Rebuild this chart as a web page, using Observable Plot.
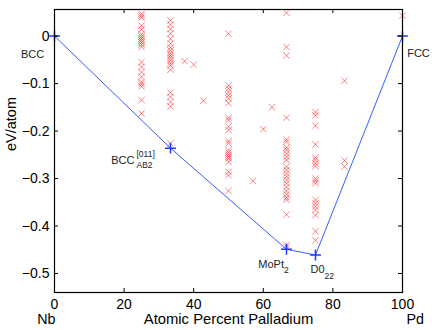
<!DOCTYPE html>
<html><head><meta charset="utf-8">
<script src="https://cdn.jsdelivr.net/npm/d3@7"></script>
<script src="https://cdn.jsdelivr.net/npm/@observablehq/plot@0.6"></script>
<style>body{margin:0;background:#fff} svg{display:block}</style>
</head><body><div id="chart"></div>
<script>
// Formation energies (eV/atom) of computed structures, grouped by atomic % Pd
const pd25 = [0.047, 0.043, 0.039, 0.022, 0.014, 0.004, -0.001, -0.005, -0.009, -0.013, -0.018, -0.023, -0.055, -0.065, -0.076, -0.086, -0.097, -0.101, -0.106, -0.135, -0.163];
const pd33 = [0.033, 0.024, 0.015, 0.005, -0.006, -0.016, -0.024, -0.030, -0.036, -0.041, -0.046, -0.051, -0.057, -0.062, -0.071, -0.119, -0.128, -0.139, -0.148, -0.226];
const pd50 = [0.005, -0.104, -0.111, -0.118, -0.125, -0.131, -0.141, -0.172, -0.177, -0.191, -0.198, -0.221, -0.226, -0.240, -0.245, -0.250, -0.254, -0.258, -0.265, -0.286, -0.293, -0.326];
const pd67 = [0.049, -0.023, -0.041, -0.172, -0.218, -0.223, -0.235, -0.240, -0.247, -0.254, -0.261, -0.275, -0.282, -0.289, -0.296, -0.303, -0.310, -0.318, -0.326, -0.333, -0.340, -0.345, -0.376, -0.440, -0.444];
const pd75 = [-0.160, -0.167, -0.189, -0.228, -0.256, -0.261, -0.268, -0.274, -0.300, -0.305, -0.310, -0.345, -0.352, -0.359, -0.366, -0.377, -0.411, -0.430];
const pd83 = [-0.094, -0.262, -0.275];
const pd100 = [0.043];
const otherX = [37.4, 40.0, 42.8, 57.0, 60.0, 62.5];
const otherE = [-0.053, -0.060, -0.136, -0.305, -0.196, -0.150];

// Convex hull (ground states)
const hullX = [0, 33.33, 66.67, 75, 100];
const hullE = [0, -0.236, -0.449, -0.461, 0];

// Tick values
const xTicks = [0, 20, 40, 60, 80, 100];
const yTicks = [0, -0.1, -0.2, -0.3, -0.4, -0.5];
const endNames = ["Nb", "Pd"];
const endX = [0, 100];

const structures = [
  ...pd25.map(e => ({x: 25, e})),
  ...pd33.map(e => ({x: 33.33, e})),
  ...pd50.map(e => ({x: 50, e})),
  ...pd67.map(e => ({x: 66.67, e})),
  ...pd75.map(e => ({x: 75, e})),
  ...pd83.map(e => ({x: 83.33, e})),
  ...pd100.map(e => ({x: 100, e})),
  ...otherX.map((x, i) => ({x, e: otherE[i]}))
];
const hull = hullX.map((x, i) => ({x, e: hullE[i]}));
const ends = endNames.map((n, i) => ({n, x: endX[i]}));

const W = 436, H = 330, ML = 54, MR = 34, MT = 9, MB = 38;
const innerW = W - ML - MR, innerH = H - MT - MB, TICK = 4;

const yFmt = d => d === 0 ? "0" : d3.format(".1f")(d);
const ann = {fontSize: 11, fill: "#222"};
const sub = {fontSize: 8.5, fill: "#222", textAnchor: "start"};

const chart = Plot.plot({
  width: W, height: H,
  marginLeft: ML, marginRight: MR, marginTop: MT, marginBottom: MB,
  style: {fontFamily: "'Liberation Sans', Arial, sans-serif", fontSize: "14px", color: "#000", background: "#fff"},
  x: {domain: [0, 100]},
  y: {domain: [-0.54, 0.056]},
  marks: [
    Plot.dot(structures, {x: "x", y: "e", symbol: "times", r: 3, stroke: "red", strokeOpacity: 0.55, strokeWidth: 0.9}),
    Plot.line(hull, {x: "x", y: "e", stroke: "#3a5cff", strokeWidth: 1}),
    Plot.dot(hull, {x: "x", y: "e", symbol: "plus", r: 3.6, stroke: "#1f3cff", strokeWidth: 1.5}),
    // annotations
    Plot.text([hull[0]], {x: "x", y: "e", text: () => "BCC", dx: -22, dy: 18, ...ann}),
    Plot.text([hull[4]], {x: "x", y: "e", text: () => "FCC", dx: 16, dy: 17.5, ...ann}),
    Plot.text([hull[1]], {x: "x", y: "e", text: () => "BCC", textAnchor: "end", dx: -36, dy: 12, ...ann}),
    Plot.text([hull[1]], {x: "x", y: "e", text: () => "[011]", dx: -34, dy: 6, ...sub}),
    Plot.text([hull[1]], {x: "x", y: "e", text: () => "AB2", dx: -34, dy: 17.5, ...sub}),
    Plot.text([hull[2]], {x: "x", y: "e", text: () => "MoPt", textAnchor: "end", dx: -2.5, dy: 15, ...ann}),
    Plot.text([hull[2]], {x: "x", y: "e", text: () => "2", dx: -2.5, dy: 20.5, ...sub}),
    Plot.text([hull[3]], {x: "x", y: "e", text: () => "D0", textAnchor: "end", dx: 9, dy: 14.5, ...ann}),
    Plot.text([hull[3]], {x: "x", y: "e", text: () => "22", dx: 9, dy: 21, ...sub}),
    // inward ticks on all four sides
    Plot.tickX(xTicks, {x: d => d, insetTop: innerH - TICK, stroke: "#000"}),
    Plot.tickX(xTicks, {x: d => d, insetBottom: innerH - TICK, stroke: "#000"}),
    Plot.tickY(yTicks, {y: d => d, insetRight: innerW - TICK, stroke: "#000"}),
    Plot.tickY(yTicks, {y: d => d, insetLeft: innerW - TICK, stroke: "#000"}),
    Plot.frame({stroke: "#000", strokeWidth: 1.2}),
    // tick labels
    Plot.axisX({anchor: "bottom", ticks: xTicks, tickSize: 0, tickPadding: 7, label: null}),
    Plot.axisY({anchor: "left", ticks: yTicks, tickSize: 0, tickPadding: 5, tickFormat: yFmt, label: null}),
    Plot.text(ends.slice(0, 1), {x: "x", text: "n", frameAnchor: "bottom", dy: 31.4, dx: 1, textAnchor: "end", fontSize: 14.3}),
    Plot.text(ends.slice(1), {x: "x", text: "n", frameAnchor: "bottom", dy: 31.4, dx: 4, textAnchor: "start", fontSize: 14.3}),
    Plot.text(ends.slice(0, 1), {frameAnchor: "bottom", x: () => 50, text: () => "Atomic Percent Palladium", dy: 31.4, fontSize: 14.8}),
    Plot.text(ends.slice(0, 1), {frameAnchor: "left", text: () => "eV/atom", rotate: -90, dx: -43, fontSize: 14.5})
  ]
});
document.getElementById("chart").appendChild(chart);
</script>
</body></html>
